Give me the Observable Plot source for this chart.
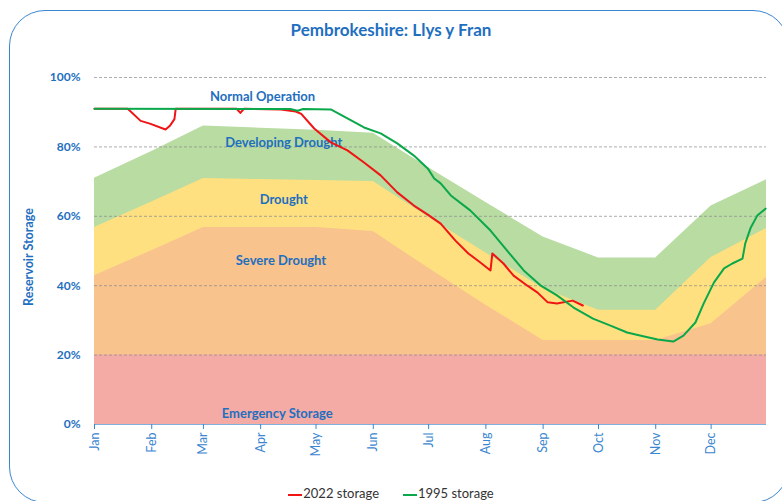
<!DOCTYPE html>
<html>
<head>
<meta charset="utf-8">
<script src="https://cdn.jsdelivr.net/npm/d3@7"></script>
<script src="https://cdn.jsdelivr.net/npm/@observablehq/plot@0.6"></script>
<style>
  html, body { margin: 0; padding: 0; background: #fff; }
  #wrap { position: relative; width: 782px; height: 501px; overflow: hidden; font-family: Lato, "Open Sans", sans-serif; }
  #frame { position: absolute; left: 9px; top: 10px; width: 780px; height: 493px; border: 1.5px solid #3a86d0; border-radius: 36px; box-sizing: border-box; }
  #title { position: absolute; left: 0; width: 782px; top: 19px; text-align: center; font-weight: bold; font-size: 17px; color: #1f6fbf; }
  #ylab { position: absolute; left: 28px; top: 257px; transform: translate(-50%, -50%) rotate(-90deg); font-weight: bold; font-size: 12.5px; color: #1f6fbf; white-space: nowrap; }
  #chart { position: absolute; left: 0; top: 0; }
  #legend { position: absolute; top: 485px; left: 0; width: 782px; text-align: center; font-size: 13px; color: #333; white-space: nowrap; }
  #legend span.sw { display: inline-block; width: 14px; height: 2px; vertical-align: middle; margin-right: 1px; }
  #legend span.it { margin: 0 12px; }
</style>
</head>
<body>
<div id="wrap">
  <div id="frame"></div>
  <div id="title">Pembrokeshire: Llys y Fran</div>
  <div id="chart"></div>
  <div id="ylab">Reservoir Storage</div>
  <div id="legend"></div>
</div>
<script>
// ---- data ----
const months = ["Jan","Feb","Mar","Apr","May","Jun","Jul","Aug","Sep","Oct","Nov","Dec"];
const monthStart = [0,31,59,90,120,151,181,212,243,273,304,334];

// drought trigger curves (% storage) at month starts + year end
const bandDays        = [0, 31, 59, 90, 120, 151, 181, 212, 243, 273, 304, 334, 364];
const developingUpper = [71, 78.7, 86, 85.4, 84.8, 83.9, 74, 64, 54, 48, 48, 63, 70.5];
const droughtUpper    = [56.8, 64.1, 70.9, 70.6, 70.3, 70, 59.7, 49.4, 39.2, 32.9, 32.9, 48.1, 56.5];
const severeUpper     = [42.9, 50.1, 56.8, 56.8, 56.8, 55.6, 45, 34.4, 24.2, 24.2, 24.2, 29, 42.4];
const emergencyUpper  = [20, 20, 20, 20, 20, 20, 20, 20, 20, 20, 20, 20, 20];

// 2022 storage (day of year, %)
const days2022 = [0,18,25,30,38.5,41,43.3,44,77,79,81,101,109,112,119,128,137,146,155,164,173,180.5,187.5,195.5,202.5,209,214.5,215.5,221.5,227,234.5,240,245.5,250.5,259,264.5];
const store2022 = [91,91,87.5,86.7,85,86.2,88,91,91,89.8,91,90.8,90.2,89.5,85.3,81.3,79,75.5,71.8,66.9,63.1,60.5,57.9,53,49.3,46.7,44.4,49.3,46.4,42.9,40,38,35.2,34.9,35.7,34.3];

// 1995 storage (day of year, %)
const days1995 = [0,106,110,113,128,137,146,155,164,173,180.5,184,187.5,193,203.5,214.5,223.5,232.5,241.5,250.5,259.5,270,279.5,288.5,296,305,313.5,319,325.5,330,335.5,341,345.5,351,352.5,355.5,359,363.5];
const store1995 = [91,90.9,90.4,90.9,90.8,88.2,85.6,83.9,81,77.5,73.8,70.9,69.5,66,61.7,55.9,50.1,44.4,40.1,37.2,33.7,30.5,28.5,26.5,25.6,24.5,23.9,25.6,29.4,34.9,40.9,45,46.4,47.8,52.2,56.8,60.2,62.2];

const bandNames = ["Normal Operation","Developing Drought","Drought","Severe Drought","Emergency Storage"];
const bandLabelDay = [91, 102.5, 102.5, 101, 99];
const bandLabelPct = [94.5, 81.3, 64.8, 47.3, 3.2];

const yTicks = [0, 20, 40, 60, 80, 100];

// ---- build tables ----
const bands = bandDays.map((d, i) => ({day: d, dev: developingUpper[i], dr: droughtUpper[i], sev: severeUpper[i], em: emergencyUpper[i]}));
const s2022 = days2022.map((d, i) => ({day: d, v: store2022[i]}));
const s1995 = days1995.map((d, i) => ({day: d, v: store1995[i]}));
const labels = bandNames.map((t, i) => ({t, x: bandLabelDay[i], y: bandLabelPct[i]}));

const textBlue = "#1f6fbf";

const chart = Plot.plot({
  width: 782,
  height: 480,
  marginLeft: 94,
  marginRight: 16,
  marginTop: 77,
  marginBottom: 56,
  style: {fontFamily: "Lato, 'Open Sans', sans-serif", background: "transparent"},
  x: {domain: [0, 364]},
  y: {domain: [0, 100]},
  marks: [
    Plot.areaY(bands, {x: "day", y: "dev", fill: "#b8dca1"}),
    Plot.areaY(bands, {x: "day", y: "dr", fill: "#fee081"}),
    Plot.areaY(bands, {x: "day", y: "sev", fill: "#f8c38d"}),
    Plot.areaY(bands, {x: "day", y: "em", fill: "#f4aba5"}),
    Plot.ruleY(yTicks.filter(d => d > 0), {stroke: "#8a8a8a", strokeOpacity: 0.7, strokeDasharray: "3,2", strokeWidth: 1}),
    Plot.ruleY([0], {stroke: "#7fb0de", strokeWidth: 1}),
    Plot.text(labels, {x: "x", y: "y", text: "t", fill: textBlue, fontWeight: "bold", fontSize: 13}),
    Plot.line(s2022, {x: "day", y: "v", stroke: "#f01414", strokeWidth: 2}),
    Plot.line(s1995, {x: "day", y: "v", stroke: "#0aa84a", strokeWidth: 2}),
    Plot.axisY({ticks: yTicks, tickFormat: d => d + "%", tickSize: 0, tickPadding: 14, label: null, color: textBlue, fontWeight: "bold", fontSize: 12}),
    Plot.axisX({ticks: monthStart, tickFormat: d => months[monthStart.indexOf(d)], tickRotate: -90, tickSize: 5, tickPadding: 3, label: null, color: "#3a86d0", fontSize: 12.5})
  ]
});
document.getElementById("chart").appendChild(chart);

// legend
const leg = document.getElementById("legend");
[["2022 storage", "#f01414"], ["1995 storage", "#0aa84a"]].forEach(([t, c]) => {
  const it = document.createElement("span");
  it.className = "it";
  it.innerHTML = `<span class="sw" style="background:${c}"></span>${t}`;
  leg.appendChild(it);
});
</script>
</body>
</html>
